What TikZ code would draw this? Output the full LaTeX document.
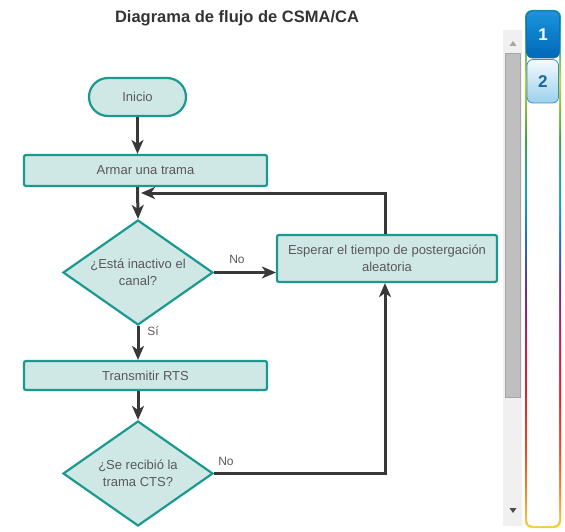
\documentclass[tikz,border=0pt]{standalone}
\usepackage{fontspec}
\setmainfont{Liberation Sans}
\usetikzlibrary{shapes.geometric,arrows.meta}
\definecolor{boxfill}{HTML}{CFE8E6}
\definecolor{boxline}{HTML}{1A9A8F}
\definecolor{txt}{HTML}{595959}
\definecolor{arrowc}{HTML}{383838}
\definecolor{rbA}{HTML}{F8D040}
\definecolor{rbB}{HTML}{F08828}
\definecolor{rbC}{HTML}{F04A20}
\definecolor{rbD}{HTML}{E02028}
\definecolor{rbE}{HTML}{C02050}
\definecolor{rbF}{HTML}{6A3090}
\definecolor{rbG}{HTML}{2070C8}
\definecolor{rbH}{HTML}{10A0C0}
\definecolor{rbI}{HTML}{40A048}
\definecolor{rbJ}{HTML}{C0D830}
\definecolor{rbK}{HTML}{50B080}
\definecolor{rbL}{HTML}{1A9A90}
\definecolor{tabAtop}{HTML}{1C94DC}
\definecolor{tabAbot}{HTML}{0068B8}
\definecolor{tabAline}{HTML}{1070B8}
\definecolor{tabBtop}{HTML}{F4FAFE}
\definecolor{tabBbot}{HTML}{9CD0EE}
\definecolor{tabBline}{HTML}{3A8FC0}
\definecolor{tabBtxt}{HTML}{1A6898}
\pgfdeclareverticalshading{rainbow}{100bp}{color(0bp)=(rbA); color(25bp)=(rbA); color(28.6bp)=(rbB); color(32.4bp)=(rbC); color(38.2bp)=(rbD); color(43.1bp)=(rbE); color(47.9bp)=(rbF); color(52.8bp)=(rbG); color(56.6bp)=(rbH); color(62.4bp)=(rbI); color(68.2bp)=(rbJ); color(71.6bp)=(rbK); color(75bp)=(rbL); color(100bp)=(rbL)}
\begin{document}
\begin{tikzpicture}[x=1pt,y=-1pt,
  font=\fontsize{13}{17}\selectfont,
  procbox/.style={draw=boxline, fill=boxfill, line width=2.2pt, rounded corners=2pt, text=txt, align=center, inner sep=0pt},
  decbox/.style={diamond, draw=boxline, fill=boxfill, line width=2.2pt, minimum width=150pt, minimum height=105pt, aspect=1.43, inner sep=0pt, text=txt, align=center},
  arr/.style={draw=arrowc, line width=3pt, -{Stealth[length=14pt,width=12pt,inset=4pt]}},
  lbl/.style={text=txt, font=\fontsize{12}{14}\selectfont, inner sep=0pt}]
\useasboundingbox (0,0) rectangle (565,532);
% title
\node[font=\fontsize{16.5}{20}\selectfont\bfseries, text=black!80] (title) at (237,18) {Diagrama de flujo de CSMA/CA};
% nodes
\node[procbox, rounded corners=19pt, minimum width=97pt, minimum height=38pt] (inicio) at (137.5,97) {Inicio};
\node[procbox, minimum width=243pt, minimum height=31pt] (armar) at (145.5,170.5) {Armar una trama};
\node[decbox] (d1) at (138,272.5) {¿Está inactivo el\\canal?};
\node[procbox, minimum width=220pt, minimum height=47pt] (wait) at (387,258.5) {Esperar el tiempo de postergación\\aleatoria};
\node[procbox, minimum width=243pt, minimum height=29pt] (rts) at (145.5,375.5) {Transmitir RTS};
\node[decbox] (d2) at (138,473.5) {¿Se recibió la\\trama CTS?};
\coordinate (fb) at (141,193);
% connectors
\draw[arr] (inicio.south) -- (inicio.south |- armar.north);
\draw[arr] (inicio.south |- armar.south) -- (d1.north);
\draw[arr] ([xshift=-2pt]wait.north) |- (fb);
\draw[arr] (d1.east) -- (d1.east -| wait.west);
\draw[arr] (d1.south) -- (d1.south |- rts.north);
\draw[arr] (d1.south |- rts.south) -- (d2.north);
\draw[arr] (d2.east) -| ([xshift=-2pt]wait.south);
% labels
\node[lbl] (no1) at (237,259) {No};
\node[lbl] (si1) at (153,331) {Sí};
\node[lbl] (no2) at (226,461) {No};
% scrollbar
\fill[black!6] (503,30) rectangle (522,526);
\draw[fill=black!25, draw=black!35, line width=0.6pt] (505,53) rectangle (520,397);
\fill[black!35] (509.5,46) -- (516.5,46) -- (513,41) -- cycle;
\fill[black!70] (509.5,508) -- (516.5,508) -- (513,513) -- cycle;
% side panel
\shade[shading=rainbow] (525,10) [rounded corners=7pt] rectangle (561,528);
\fill[white] (527,12) [rounded corners=5.5pt] rectangle (559,526);
\shade[top color=tabAtop, bottom color=tabAbot, draw=tabAline, line width=0.6pt, rounded corners=6pt] (526.5,11) rectangle (559.5,58) node[midway, text=white, font=\fontsize{17}{20}\selectfont\bfseries] (tab1) {1};
\shade[top color=tabBtop, bottom color=tabBbot, draw=tabBline, line width=0.8pt, rounded corners=6pt] (527,59.5) rectangle (558.5,103) node[midway, text=tabBtxt, font=\fontsize{17}{20}\selectfont\bfseries] (tab2) {2};
\end{tikzpicture}
\end{document}
